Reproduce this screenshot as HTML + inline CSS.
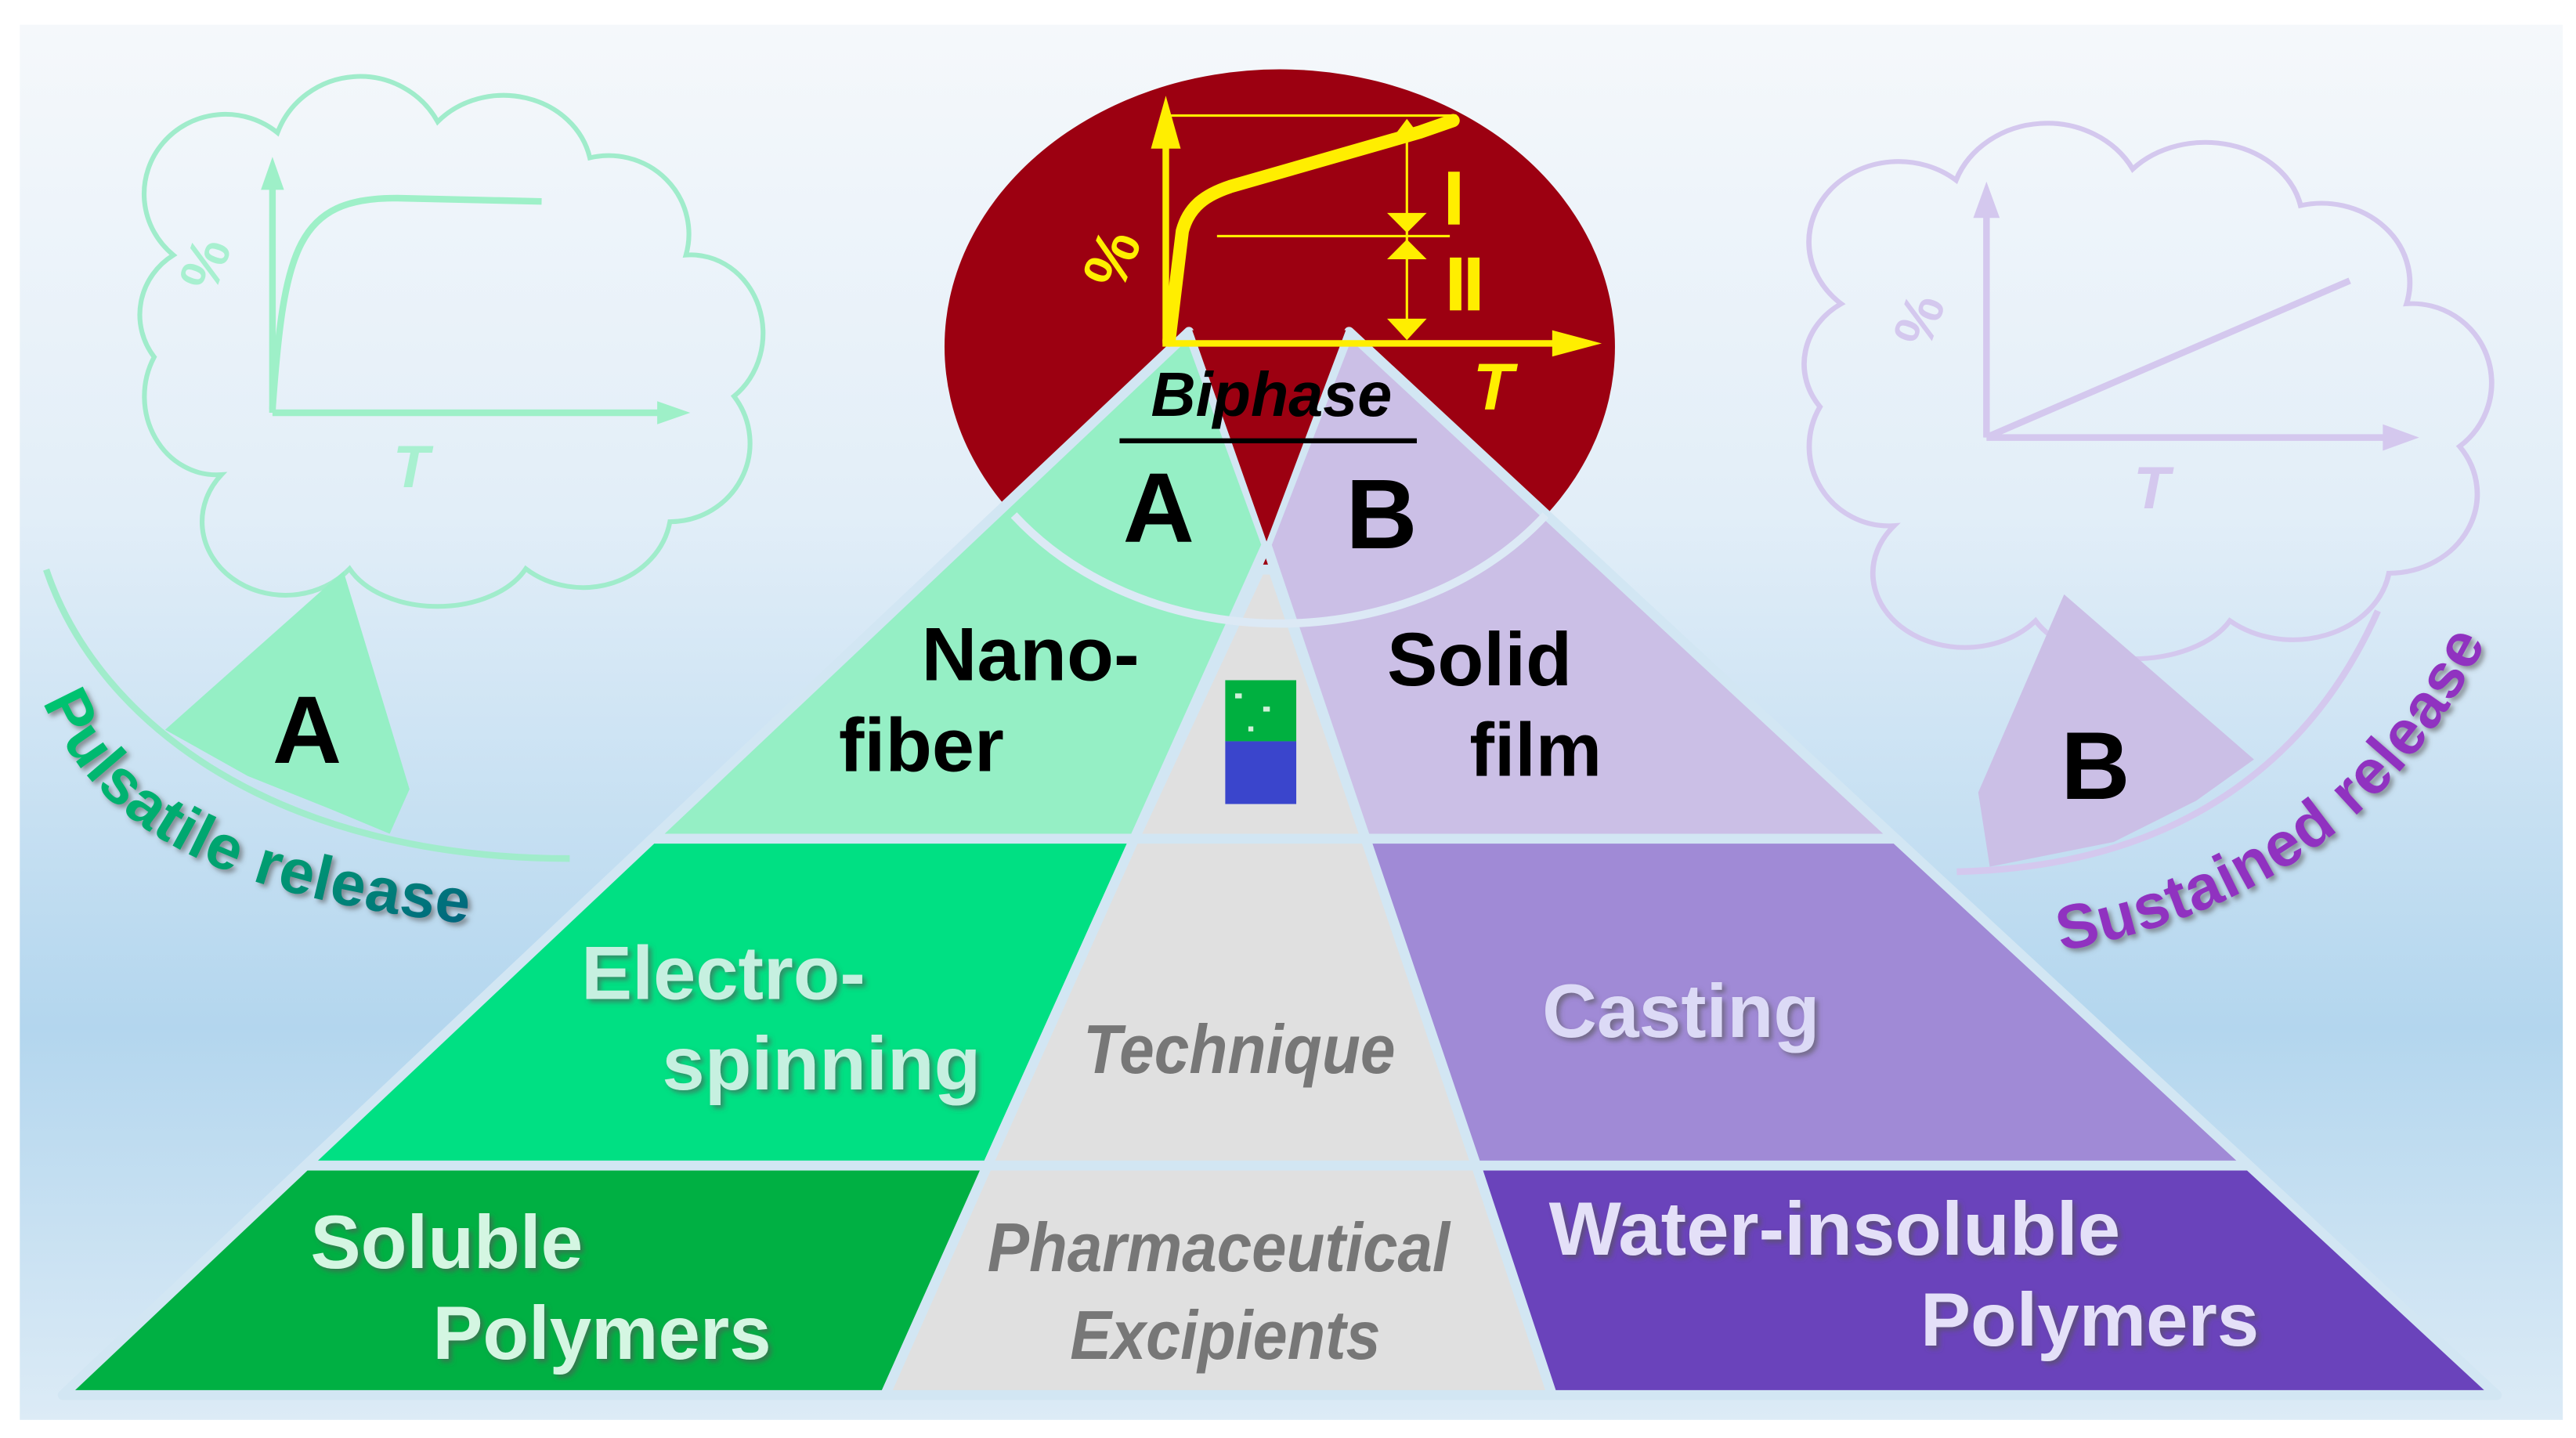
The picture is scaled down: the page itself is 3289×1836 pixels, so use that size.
<!DOCTYPE html>
<html><head><meta charset="utf-8"><style>
html,body{margin:0;padding:0;background:#fff;}
svg{display:block;}
text{font-family:"Liberation Sans",Arial,sans-serif;font-weight:bold;}
</style></head><body>
<svg width="3289" height="1836" viewBox="0 0 1560 871" preserveAspectRatio="none" xmlns="http://www.w3.org/2000/svg">
<defs>
<linearGradient id="bg" x1="0" y1="0" x2="0" y2="1">
<stop offset="0" stop-color="#f5f8fb"/>
<stop offset="0.35" stop-color="#e2eef8"/>
<stop offset="0.72" stop-color="#b3d6ee"/>
<stop offset="1" stop-color="#dcebf6"/>
</linearGradient>
<linearGradient id="pg" x1="0" y1="0" x2="1" y2="1">
<stop offset="0" stop-color="#00c870"/><stop offset="0.6" stop-color="#00a070"/><stop offset="1" stop-color="#006080"/>
</linearGradient>
<filter id="sh" x="-10%" y="-10%" width="130%" height="130%">
<feDropShadow dx="2" dy="2" stdDeviation="1.5" flood-color="#555" flood-opacity="0.6"/>
</filter>
<path id="pl" d="M 26,425 C 62,512 150,548 310,562"/>
<path id="sl" d="M 1248,576 C 1380,552 1462,482 1510,380"/>
</defs>
<rect x="0" y="0" width="1560" height="871" fill="#ffffff"/>
<rect x="12" y="15" width="1540" height="845" fill="url(#bg)"/>

<!-- left cloud -->
<g fill="none" stroke="#a0eccb" stroke-width="3">
<path transform="translate(8,12) scale(0.97,0.95)" d="M 100,150 A 50,50 0 0 1 165,72 A 55,55 0 0 1 265,65 A 55,50 0 0 1 360,88 A 50,50 0 0 1 420,150 A 45,50 0 0 1 450,240 A 50,50 0 0 1 410,320 A 55,50 0 0 1 320,350 A 60,40 0 0 1 210,350 A 50,45 0 0 1 130,290 A 45,50 0 0 1 88,215 A 45,45 0 0 1 100,150 Z"/>
<path d="M 28,345 C 60,440 170,520 345,520" stroke-width="4"/>
</g>
<polygon points="208,346 248,478 236,505 200,490 150,470 100,442" fill="#95efc5"/>
<g stroke="#9ef0c8" stroke-width="4" fill="none">
<line x1="165" y1="250" x2="165" y2="105"/>
<line x1="165" y1="250" x2="405" y2="250"/>
<path d="M165,248 C172,150 180,120 240,120 L328,122"/>
</g>
<polygon points="165,95 158,115 172,115" fill="#9ef0c8"/>
<polygon points="418,250 398,243 398,257" fill="#9ef0c8"/>
<text x="130" y="178" font-size="34" fill="#a8f0d0" font-weight="normal" transform="rotate(-70 130 178)">%</text>
<text x="238" y="295" font-size="36" fill="#a8f0d0" font-style="italic" font-weight="normal">T</text>
<text x="165" y="462" font-size="58" fill="#000">A</text>
<text font-size="38" fill="url(#pg)" filter="url(#sh)" letter-spacing="0.5"><textPath href="#pl">Pulsatile release</textPath></text>

<!-- right cloud -->
<g fill="none" stroke="#d4c8ee" stroke-width="3">
<path transform="translate(1008,40) scale(1.07,0.96)" d="M 100,150 A 50,50 0 0 1 165,72 A 55,55 0 0 1 265,65 A 55,50 0 0 1 360,88 A 50,50 0 0 1 420,150 A 45,50 0 0 1 450,240 A 50,50 0 0 1 410,320 A 55,50 0 0 1 320,350 A 60,40 0 0 1 210,350 A 50,45 0 0 1 130,290 A 45,50 0 0 1 88,215 A 45,45 0 0 1 100,150 Z"/>
<path d="M 1440,370 C 1400,460 1320,525 1185,528" stroke-width="4"/>
</g>
<polygon points="1250,360 1365,460 1330,485 1280,510 1205,525 1198,480" fill="#cbbfe6"/>
<g stroke="#d4c8ee" stroke-width="4" fill="none">
<line x1="1203" y1="265" x2="1203" y2="122"/>
<line x1="1203" y1="265" x2="1450" y2="265"/>
<line x1="1205" y1="264" x2="1423" y2="170"/>
</g>
<polygon points="1203,110 1195,132 1211,132" fill="#d4c8ee"/>
<polygon points="1465,265 1443,257 1443,273" fill="#d4c8ee"/>
<text x="1168" y="212" font-size="34" fill="#d4c8ee" font-weight="normal" transform="rotate(-70 1168 212)">%</text>
<text x="1292" y="308" font-size="36" fill="#d4c8ee" font-style="italic" font-weight="normal">T</text>
<text x="1248" y="484" font-size="58" fill="#000">B</text>
<text font-size="38" fill="#9030c0" filter="url(#sh)" letter-spacing="0.5"><textPath href="#sl">Sustained release</textPath></text>

<!-- red circle -->
<ellipse cx="775" cy="210" rx="203" ry="168" fill="#9c0011"/>

<!-- pyramid -->
<g stroke="#d2e6f3" stroke-width="6" stroke-linejoin="round">
<polygon points="720,201 767,330 687,508 395,508" fill="#95efc5"/>
<polygon points="817,201 767,330 827,508 1148,508" fill="#cbbfe6"/>
<polygon points="763,345 771,345 827,508 687,508" fill="#e0e0e0"/>
<polygon points="395,508 687,508 598,706 185,706" fill="#00e083"/>
<polygon points="687,508 827,508 894,706 598,706" fill="#e0e0e0"/>
<polygon points="827,508 1148,508 1362,706 894,706" fill="#a08ad6"/>
<polygon points="185,706 598,706 536,845 38,845" fill="#00b043"/>
<polygon points="598,706 894,706 940,845 536,845" fill="#e0e0e0"/>
<polygon points="894,706 1362,706 1512,845 940,845" fill="#6a43bb"/>
</g>
<polygon points="722,200 815,200 767,328" fill="#9c0011"/>
<path d="M 614,312 A 203,168 0 0 0 936,312" fill="none" stroke="#dce9f5" stroke-width="5"/>

<!-- chart in circle -->
<g stroke="#ffee00" fill="none">
<line x1="706" y1="208" x2="706" y2="75" stroke-width="4"/>
<line x1="704" y1="208" x2="952" y2="208" stroke-width="4"/>
<line x1="706" y1="70" x2="882" y2="70" stroke-width="1.5"/>
<line x1="737" y1="143" x2="878" y2="143" stroke-width="1.5"/>
<line x1="852" y1="75" x2="852" y2="205" stroke-width="1.5"/>
<path d="M708,206 L716,140 C720,125 730,118 745,113 L860,80 L880,73" stroke-width="8" stroke-linecap="round"/>
</g>
<g fill="#ffee00">
<polygon points="706,58 697,90 715,90"/>
<polygon points="970,208 940,200 940,216"/>
<polygon points="852,141 840,129 864,129"/>
<polygon points="852,145 840,157 864,157"/>
<polygon points="852,206 840,193 864,193"/>
<polygon points="852,72 846,80 858,80"/>
<rect x="877" y="104" width="7" height="32"/>
<rect x="878" y="156" width="7" height="32"/>
<rect x="889" y="156" width="7" height="32"/>
</g>
<text x="658" y="178" font-size="38" fill="#ffee00" transform="rotate(-68 668 162)">%</text>
<text x="892" y="248" font-size="40" fill="#ffee00" font-style="italic">T</text>

<text x="697" y="252" font-size="38" font-style="italic" fill="#000" textLength="146" lengthAdjust="spacingAndGlyphs">Biphase</text>
<line x1="678" y1="267" x2="858" y2="267" stroke="#000" stroke-width="3"/>
<text x="680" y="328" font-size="60" fill="#000">A</text>
<text x="815" y="332" font-size="60" fill="#000">B</text>

<text x="558" y="412" font-size="46" fill="#000" textLength="132" lengthAdjust="spacingAndGlyphs">Nano-</text>
<text x="508" y="467" font-size="46" fill="#000" textLength="100" lengthAdjust="spacingAndGlyphs">fiber</text>
<text x="840" y="415" font-size="46" fill="#000" textLength="112" lengthAdjust="spacingAndGlyphs">Solid</text>
<text x="890" y="470" font-size="46" fill="#000" textLength="80" lengthAdjust="spacingAndGlyphs">film</text>

<rect x="742" y="412" width="43" height="37" fill="#00b040"/>
<rect x="748" y="420" width="4" height="3" fill="#d0f0d8"/><rect x="765" y="428" width="4" height="3" fill="#d0f0d8"/><rect x="756" y="440" width="3" height="3" fill="#d0f0d8"/>
<rect x="742" y="449" width="43" height="38" fill="#3a45cc"/>

<g filter="url(#sh)">
<text x="352" y="605" font-size="46" fill="#c6f0e0" textLength="172" lengthAdjust="spacingAndGlyphs">Electro-</text>
<text x="401" y="660" font-size="46" fill="#c6f0e0" textLength="193" lengthAdjust="spacingAndGlyphs">spinning</text>
<text x="934" y="628" font-size="46" fill="#dcdaf6" textLength="168" lengthAdjust="spacingAndGlyphs">Casting</text>
<text x="188" y="768" font-size="46" fill="#d4f6e2" textLength="165" lengthAdjust="spacingAndGlyphs">Soluble</text>
<text x="262" y="823" font-size="46" fill="#d4f6e2" textLength="205" lengthAdjust="spacingAndGlyphs">Polymers</text>
<text x="938" y="760" font-size="46" fill="#e4e0f8" textLength="346" lengthAdjust="spacingAndGlyphs">Water-insoluble</text>
<text x="1163" y="815" font-size="46" fill="#e4e0f8" textLength="205" lengthAdjust="spacingAndGlyphs">Polymers</text>
</g>
<text x="656" y="650" font-size="42" font-style="italic" fill="#777" textLength="189" lengthAdjust="spacingAndGlyphs">Technique</text>
<text x="598" y="770" font-size="42" font-style="italic" fill="#777" textLength="280" lengthAdjust="spacingAndGlyphs">Pharmaceutical</text>
<text x="648" y="823" font-size="42" font-style="italic" fill="#777" textLength="188" lengthAdjust="spacingAndGlyphs">Excipients</text>
</svg>
</body></html>
